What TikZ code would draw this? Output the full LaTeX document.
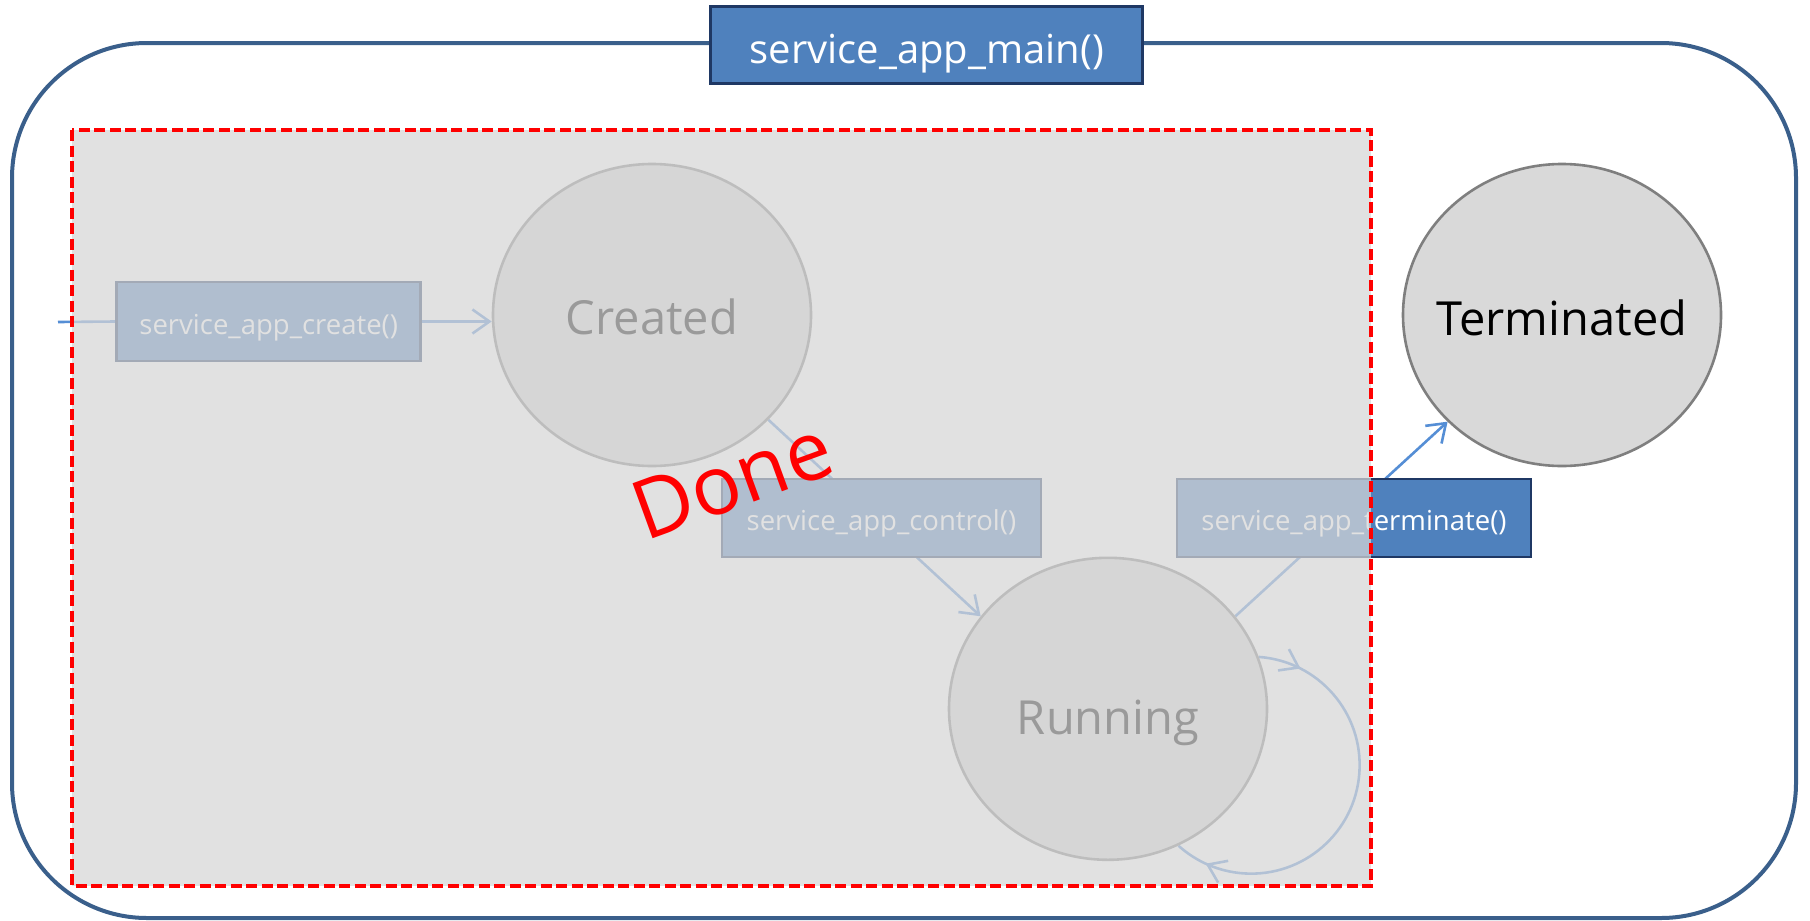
\documentclass[tikz,border=0pt]{standalone}
\usepackage{fontspec}
\setmainfont{Open Sans}
\usetikzlibrary{arrows.meta,decorations.markings,calc,shapes.geometric}
\definecolor{outerblue}{RGB}{58,95,139}
\definecolor{navy}{RGB}{31,56,100}
\definecolor{boxblue}{RGB}{79,129,189}
\definecolor{lineblue}{RGB}{85,142,213}
\definecolor{ellfill}{RGB}{217,217,217}
\definecolor{ellborder}{RGB}{127,127,127}
\definecolor{ovl}{RGB}{214,214,214}
\pgfdeclarelayer{bg}
\pgfdeclarelayer{lines}
\pgfdeclarelayer{top}
\pgfsetlayers{bg,lines,main,top}
\tikzset{barbtip/.tip={Straight Barb[length=17pt,width=24pt]}}
\begin{document}
\begin{tikzpicture}[x=1pt,y=-1pt,
  fnbox/.style={draw=navy, line width=2.8pt, fill=boxblue, text=white, inner sep=0pt,
    font=\fontsize{27.5}{30}\selectfont, text height=32pt, text depth=7pt},
  state/.style={ellipse, draw=ellborder, line width=2.6pt, fill=ellfill, minimum width=318pt,
    minimum height=302pt, inner ysep=0pt, inner xsep=-40pt, font=\fontsize{47}{50}\selectfont, text=black,
    text height=38pt, text depth=0pt},
  conn/.style={draw=lineblue, line width=2.6pt, -barbtip},
  plain/.style={draw=lineblue, line width=2.6pt},
]
\useasboundingbox (0,0) rectangle (1810,921);

\begin{pgfonlayer}{bg}
  \draw[outerblue, line width=4pt, rounded corners=135pt] (12,43) rectangle (1796,918);
\end{pgfonlayer}

\node[draw=navy, line width=3pt, fill=boxblue, text=white, inner sep=0pt,
  minimum width=432pt, minimum height=77pt, font=\fontsize{40}{44}\selectfont,
  text height=46pt, text depth=10pt] (main) at (926.8,45.3) {service\_app\_main()};

\node[state] (cre) at (652,315) {Created};
\node[state, text height=52pt] (run) at (1108,708.8) {Running};
\node[state, text height=40pt] (ter) at (1562,315) {Terminated};

\node[fnbox, minimum width=304pt, minimum height=79pt] (cb) at (268.7,321.5) {service\_app\_create()};
\node[fnbox, minimum width=319pt, minimum height=78pt] (ctl) at (881.4,518) {service\_app\_control()};
\node[fnbox, minimum width=354pt, minimum height=78pt] (tb) at (1354,518) {service\_app\_terminate()};

\coordinate (entry) at (58,322);

\begin{pgfonlayer}{lines}
  \draw[plain] (entry) -- (cb.west);
  \draw[conn] (cb.east) -- (cb.east -| cre.west);
  \draw[conn] (cre.-42) -- (run.144);
  \draw[conn] (run.36) -- (ter.223);
  \draw[plain, postaction={decorate}, decoration={markings,
      mark=at position 0.106 with {\arrow{barbtip}},
      mark=at position 0.921 with {\arrow{barbtip}}}]
    (run.19) arc[start angle=86, end angle=-132, radius=108.5pt];
\end{pgfonlayer}

\begin{pgfonlayer}{top}
  \fill[ovl, fill opacity=0.72] (72,130) rectangle (1371,886);
  \draw[red, line width=3.5pt, dash pattern=on 11pt off 4.5pt] (72,130) rectangle (1371,886);
  \node[text=red, font=\fontsize{82}{82}\selectfont, rotate=20, anchor=base west, inner sep=0pt]
    (done) at (645,542) {Done};
\end{pgfonlayer}
\end{tikzpicture}
\end{document}
